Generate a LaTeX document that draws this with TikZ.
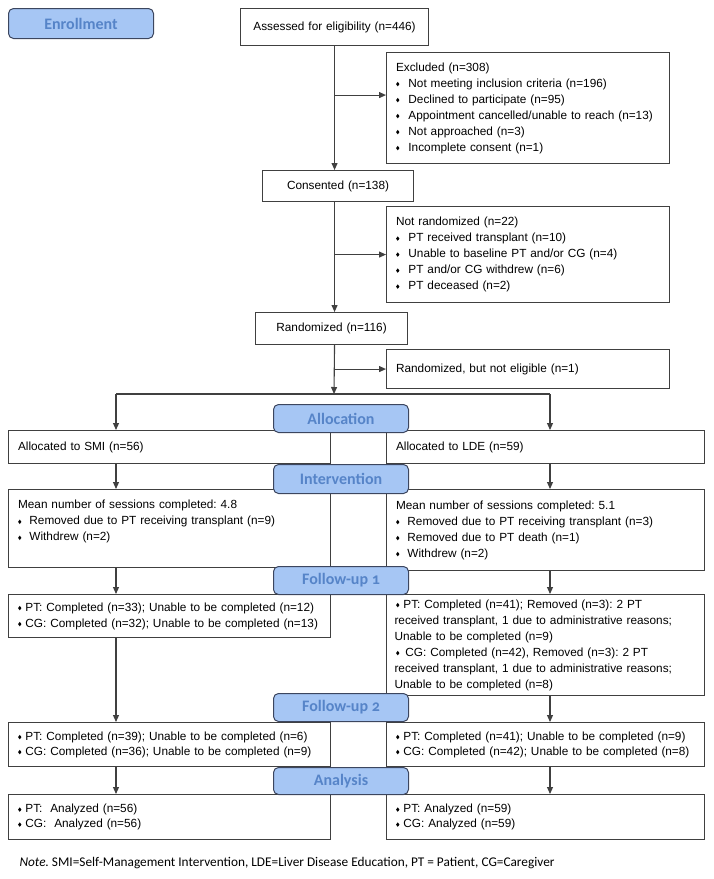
\documentclass[tikz,border=0pt]{standalone}
\usepackage{fontspec}
\setmainfont{Liberation Sans}
\newfontfamily\stagefont[Numbers=OldStyle]{Carlito}
\newfontfamily\notefont{Carlito}
\usetikzlibrary{arrows.meta}
\frenchspacing
\definecolor{boxline}{RGB}{64,64,64}
\definecolor{stagefill}{RGB}{166,198,244}
\definecolor{stagetext}{RGB}{86,132,200}
\definecolor{stageline}{RGB}{60,70,95}
\tikzstyle{box_normal} = [draw=boxline, line width=1.1pt, anchor=north west, inner xsep=8pt, inner ysep=0pt, align=left, font=\fontsize{11.8}{16}\selectfont]
\tikzstyle{box_center} = [box_normal, align=center]
\tikzstyle{box_stage} = [draw=stageline, line width=1pt, fill=stagefill, rounded corners=5pt, anchor=north west, inner sep=0pt, text=stagetext, font=\stagefont\bfseries\fontsize{16}{18}\selectfont]
\tikzstyle{edge_line} = [draw=boxline, line width=1.1pt]
\tikzstyle{edge_arrow} = [edge_line, -{Triangle[length=7pt,width=6pt]}]
\newcommand{\bul}[1][9pt]{\hspace{1.5pt}\tikz[baseline=-3pt]\fill[black] (0,0) -- (1.7pt,2.2pt) -- (3.4pt,0) -- (1.7pt,-2.2pt) -- cycle;\hspace{#1}}

\begin{document}
\begin{tikzpicture}[x=1pt,y=-1pt]
\useasboundingbox (0,0) rectangle (714,879);

% enrollment
\node (assess) at (240,8) [box_center, minimum width=188pt, minimum height=37pt, text width=172pt] {Assessed for eligibility (n=446)};
\node (excl) at (386,52) [box_normal, minimum width=283pt, minimum height=111pt, text width=267pt]
  {\hspace{1.5pt}Excluded (n=308)\\
   \bul Not meeting inclusion criteria (n=196)\\
   \bul Declined to participate (n=95)\\
   \bul Appointment cancelled/unable to reach (n=13)\\
   \bul Not approached (n=3)\\
   \bul Incomplete consent (n=1)};
\node (consent) at (262,170) [box_center, minimum width=151pt, minimum height=31pt, text width=135pt] {Consented (n=138)};
\node (notrand) at (386,206) [box_normal, minimum width=283pt, minimum height=96pt, text width=267pt]
  {\hspace{1.5pt}Not randomized (n=22)\\
   \bul PT received transplant (n=10)\\
   \bul Unable to baseline PT and/or CG (n=4)\\
   \bul PT and/or CG withdrew (n=6)\\
   \bul PT deceased (n=2)};
\node (rand) at (255,312) [box_center, minimum width=152pt, minimum height=32pt, text width=136pt] {Randomized (n=116)};
\node (inel) at (386,349) [box_normal, minimum width=283pt, minimum height=39pt, text width=267pt] {\hspace{1.5pt}Randomized, but not eligible (n=1)};

% two arms
\node (smi) at (8,430) [box_normal, minimum width=322pt, minimum height=33pt, text width=306pt] {\hspace{1.5pt}Allocated to SMI (n=56)};
\node (lde) at (386,430) [box_normal, minimum width=318pt, minimum height=33pt, text width=302pt] {\hspace{1.5pt}Allocated to LDE (n=59)};
\node (mean1) at (8,489) [box_normal, minimum width=322pt, minimum height=78pt, text width=306pt]
  {\hspace{1.5pt}Mean number of sessions completed: 4.8\\
   \bul[8pt]Removed due to PT receiving transplant (n=9)\\
   \bul[8pt]Withdrew (n=2)\\ \mbox{}};
\node (mean2) at (386,489) [box_normal, minimum width=318pt, minimum height=81pt, text width=302pt]
  {\hspace{1.5pt}Mean number of sessions completed: 5.1\\
   \bul[8pt]Removed due to PT receiving transplant (n=3)\\
   \bul[8pt]Removed due to PT death (n=1)\\
   \bul[8pt]Withdrew (n=2)};
\node (fu1a) at (8,594) [box_normal, minimum width=322pt, minimum height=43pt, text width=306pt]
  {\bul[4pt]PT: Completed (n=33); Unable to be completed (n=12)\\
   \bul[4pt]CG: Completed (n=32); Unable to be completed (n=13)};
\node (fu1b) at (386,594) [box_normal, minimum width=318pt, minimum height=101pt, text width=302pt]
  {\bul[4pt]PT: Completed (n=41); Removed (n=3): 2 PT\\
   received transplant, 1 due to administrative reasons;\\
   Unable to be completed (n=9)\\
   \bul[6pt]CG: Completed (n=42), Removed (n=3): 2 PT\\
   received transplant, 1 due to administrative reasons;\\
   Unable to be completed (n=8)};
\node (fu2a) at (8,722) [box_normal, minimum width=322pt, minimum height=44pt, text width=306pt, font=\fontsize{11.8}{15}\selectfont]
  {\bul[4pt]PT: Completed (n=39); Unable to be completed (n=6)\\
   \bul[4pt]CG: Completed (n=36); Unable to be completed (n=9)};
\node (fu2b) at (386,722) [box_normal, minimum width=318pt, minimum height=44pt, text width=302pt, font=\fontsize{11.8}{15}\selectfont]
  {\bul[4pt]PT: Completed (n=41); Unable to be completed (n=9)\\
   \bul[4pt]CG: Completed (n=42); Unable to be completed (n=8)};
\node (ana) at (8,794) [box_normal, minimum width=322pt, minimum height=45pt, text width=306pt, font=\fontsize{11.8}{15}\selectfont]
  {\bul[4pt]PT:\ \ Analyzed (n=56)\\
   \bul[4pt]CG:\ \ Analyzed (n=56)};
\node (anb) at (386,794) [box_normal, minimum width=318pt, minimum height=45pt, text width=302pt, font=\fontsize{11.8}{15}\selectfont]
  {\bul[4pt]PT: Analyzed (n=59)\\
   \bul[4pt]CG: Analyzed (n=59)};

% arrows
\coordinate (lx) at (116,0);
\coordinate (rx) at (550,0);
\coordinate (split) at (334,394);
\coordinate (exclin) at ([yshift=13pt]excl.west);
\draw[edge_arrow] (assess.south) -- (assess.south |- consent.north);
\draw[edge_arrow] (exclin -| assess.south) -- (exclin);
\draw[edge_arrow] (assess.south |- consent.south) -- (assess.south |- rand.north);
\draw[edge_arrow] (notrand.west -| assess.south) -- (notrand.west);
\draw[edge_arrow] (assess.south |- rand.south) -- (split);
\draw[edge_arrow] (inel.west -| assess.south) -- (inel.west);
\draw[edge_line] (split -| lx) -- (split -| rx);
\draw[edge_arrow] (split -| lx) -- (smi.north -| lx);
\draw[edge_arrow] (split -| rx) -- (lde.north -| rx);
\draw[edge_arrow] (smi.south -| lx) -- (mean1.north -| lx);
\draw[edge_arrow] (lde.south -| rx) -- (mean2.north -| rx);
\draw[edge_arrow] (mean1.south -| lx) -- (fu1a.north -| lx);
\draw[edge_arrow] (mean2.south -| rx) -- (fu1b.north -| rx);
\draw[edge_arrow] (fu1a.south -| lx) -- (fu2a.north -| lx);
\draw[edge_arrow] (fu1b.south -| rx) -- (fu2b.north -| rx);
\draw[edge_arrow] (fu2a.south -| lx) -- (ana.north -| lx);
\draw[edge_arrow] (fu2b.south -| rx) -- (anb.north -| rx);

% stage labels
\node (enroll) at (8,8) [box_stage, minimum width=145pt, minimum height=30pt] {Enrollment};
\node (alloc) at (273,404) [box_stage, minimum width=135pt, minimum height=28pt] {Allocation};
\node (interv) at (273,464) [box_stage, minimum width=135pt, minimum height=29pt] {Intervention};
\node (fup1) at (273,566) [box_stage, minimum width=135pt, minimum height=28pt] {Follow-up 1};
\node (fup2) at (273,693) [box_stage, minimum width=135pt, minimum height=28pt] {Follow-up 2};
\node (anal) at (273,767) [box_stage, minimum width=135pt, minimum height=27pt] {Analysis};

\node (note) at (16,863) [anchor=west, font=\notefont\fontsize{13.3}{15}\selectfont] {\textit{Note.} SMI=Self-Management Intervention, LDE=Liver Disease Education, PT = Patient, CG=Caregiver};
\end{tikzpicture}
\end{document}
